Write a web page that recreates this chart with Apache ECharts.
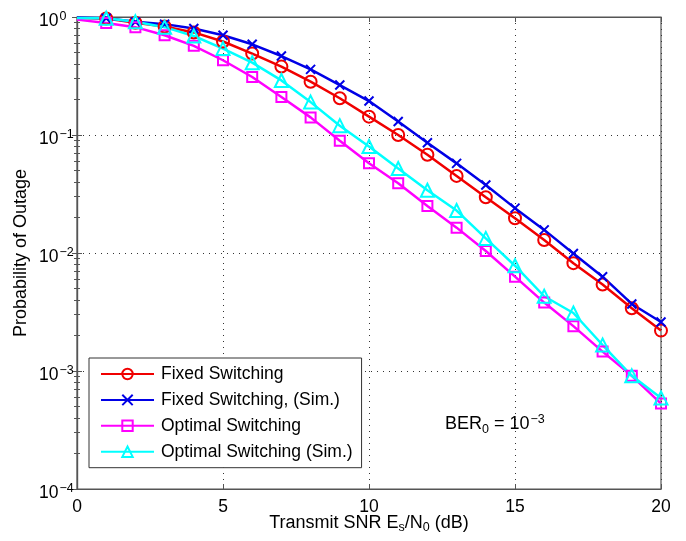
<!DOCTYPE html>
<html><head><meta charset="utf-8">
<script src="https://cdn.jsdelivr.net/npm/echarts@6/dist/echarts.min.js"></script>
<style>html,body{margin:0;padding:0;background:#fff}#c{width:686px;height:541px}</style>
</head><body><div id="c"></div>
<script>
const snr = [0,1,2,3,4,5,6,7,8,9,10,11,12,13,14,15,16,17,18,19,20];
const fixedSw = [0.98,0.97,0.895,0.83,0.74,0.62,0.49,0.38,0.283,0.205,0.143,0.1,0.068,0.045,0.0297,0.0197,0.0129,0.0082,0.0054,0.0034,0.0022];
const fixedSim = [0.99,0.975,0.91,0.87,0.80,0.70,0.587,0.467,0.36,0.265,0.194,0.13,0.086,0.0575,0.0377,0.024,0.0157,0.0099,0.0063,0.0037,0.0026];
const optSw = [0.95,0.89,0.82,0.70,0.57,0.43,0.31,0.21,0.141,0.0895,0.0576,0.039,0.025,0.0164,0.0104,0.0063,0.0038,0.0024,0.00146,0.00091,0.00053];
const optSim = [0.98,0.975,0.91,0.82,0.69,0.54,0.41,0.29,0.19,0.12,0.08,0.052,0.034,0.0229,0.0133,0.0078,0.0043,0.0031,0.00166,0.00091,0.00059];
const names = ['Fixed Switching','Fixed Switching, (Sim.)','Optimal Switching','Optimal Switching (Sim.)'];
const xTicks = [0,5,10,15,20];

const FONT = 'Liberation Sans, Arial, Helvetica, sans-serif';
const FS = 17.5;
const chart = echarts.init(document.getElementById('c'));

function mk(name, vals, color, symbol, size){
  return {
    name, type:'line',
    data: snr.map((x,i)=> i===0 ? {value:[x,vals[i]], symbol:'none'} : [x,vals[i]]),
    symbol, symbolSize:size, showAllSymbol:true,
    lineStyle:{color, width:2.5},
    itemStyle:{color:'rgba(255,255,255,0)', borderColor:color, borderWidth:2},
    emphasis:{disabled:true},
    animation:false, z:3
  };
}
const supRich = {
  b:{fontSize:FS, fontFamily:FONT, color:'#000'},
  s:{fontSize:12.5, fontFamily:FONT, color:'#000', verticalAlign:'bottom', padding:[0,0,9,1]}
};
const axisCommonLine = {show:true, lineStyle:{color:'#555', width:1.2}};
const option = {
  animation:false,
  backgroundColor:'#fff',
  grid:{left:77, right:25, top:17, bottom:52, show:true, borderColor:'#555', borderWidth:1.2,
        containLabel:false, outerBoundsMode:'none'},
  xAxis:[{
    type:'value', min:0, max:20, interval:5,
    axisLine:axisCommonLine,
    axisTick:{inside:true, length:5, lineStyle:{color:'#555'}},
    axisLabel:{fontSize:FS, fontFamily:FONT, color:'#000', margin:9,
      customValues: xTicks},
    splitLine:{show:true, lineStyle:{type:[1,5], color:'#333', width:1}},
    name:'{t|Transmit SNR E}{u|s}{t|/N}{u|0}{t| (dB)}',
    nameLocation:'middle', nameGap:23, nameMoveOverlap:false,
    nameTextStyle:{rich:{
      t:{fontSize:18, fontFamily:FONT, color:'#000'},
      u:{fontSize:12.5, fontFamily:FONT, color:'#000', verticalAlign:'top', padding:[9,0,0,0]}
    }}
  },{
    type:'value', position:'top', min:0, max:20, interval:5,
    axisLine:axisCommonLine,
    axisTick:{inside:true, length:5, lineStyle:{color:'#555'}},
    axisLabel:{show:false}, splitLine:{show:false}
  }],
  yAxis:[{
    type:'log', logBase:10, min:1e-4, max:1,
    axisLine:axisCommonLine,
    axisTick:{inside:true, length:5, lineStyle:{color:'#555'}},
    minorTick:{show:true, splitNumber:9, length:3, lineStyle:{color:'#555'}},
    axisLabel:{margin:38, align:'left', padding:[8,0,0,0], formatter:(v)=>{const e=Math.round(Math.log10(v)); return '{b|10}{s|'+(e===0?'0':'\u2212'+(-e))+'}';}, rich:supRich},
    splitLine:{show:true, lineStyle:{type:[1,5], color:'#333', width:1}},
    name:'Probability of Outage', nameLocation:'middle', nameGap:47, nameRotate:90, nameMoveOverlap:false,
    nameTextStyle:{fontSize:18, fontFamily:FONT, color:'#000'}
  },{
    type:'log', logBase:10, min:1e-4, max:1, position:'right',
    axisLine:axisCommonLine,
    axisTick:{inside:true, length:5, lineStyle:{color:'#555'}},
    minorTick:{show:true, splitNumber:9, length:3, lineStyle:{color:'#555'}},
    axisLabel:{show:false}, splitLine:{show:false}
  }],
  legend:{
    orient:'vertical', left:89, top:358,
    data:names,
    backgroundColor:'#fff', borderColor:'#333', borderWidth:1,
    padding:[7,9,7,11],
    itemWidth:53, itemHeight:13, itemGap:7.9,
    textStyle:{fontSize:FS, fontFamily:FONT, color:'#000', padding:[0,0,0,2]}
  },
  graphic:[{
    type:'text', left:445, top:413,
    style:{
      rich:{
        t:{fontSize:18, fontFamily:FONT, fill:'#000'},
        sub:{fontSize:12.5, fontFamily:FONT, fill:'#000', verticalAlign:'top', padding:[10,0,0,0]},
        sup:{fontSize:12.5, fontFamily:FONT, fill:'#000', verticalAlign:'bottom', padding:[0,0,10,1]}
      },
      text:'{t|BER}{sub|0}{t| = 10}{sup|\u22123}'
    }, z:10
  }],
  series:[
    mk(names[0], fixedSw, '#f00000', 'circle', 12),
    mk(names[1], fixedSim, '#0000e6', 'path://M0,0L10,10M10,0L0,10', 9),
    mk(names[2], optSw, '#ff00ff', 'rect', 10),
    mk(names[3], optSim, '#00ffff', 'triangle', 13)
  ]
};
chart.setOption(option);
</script></body></html>
